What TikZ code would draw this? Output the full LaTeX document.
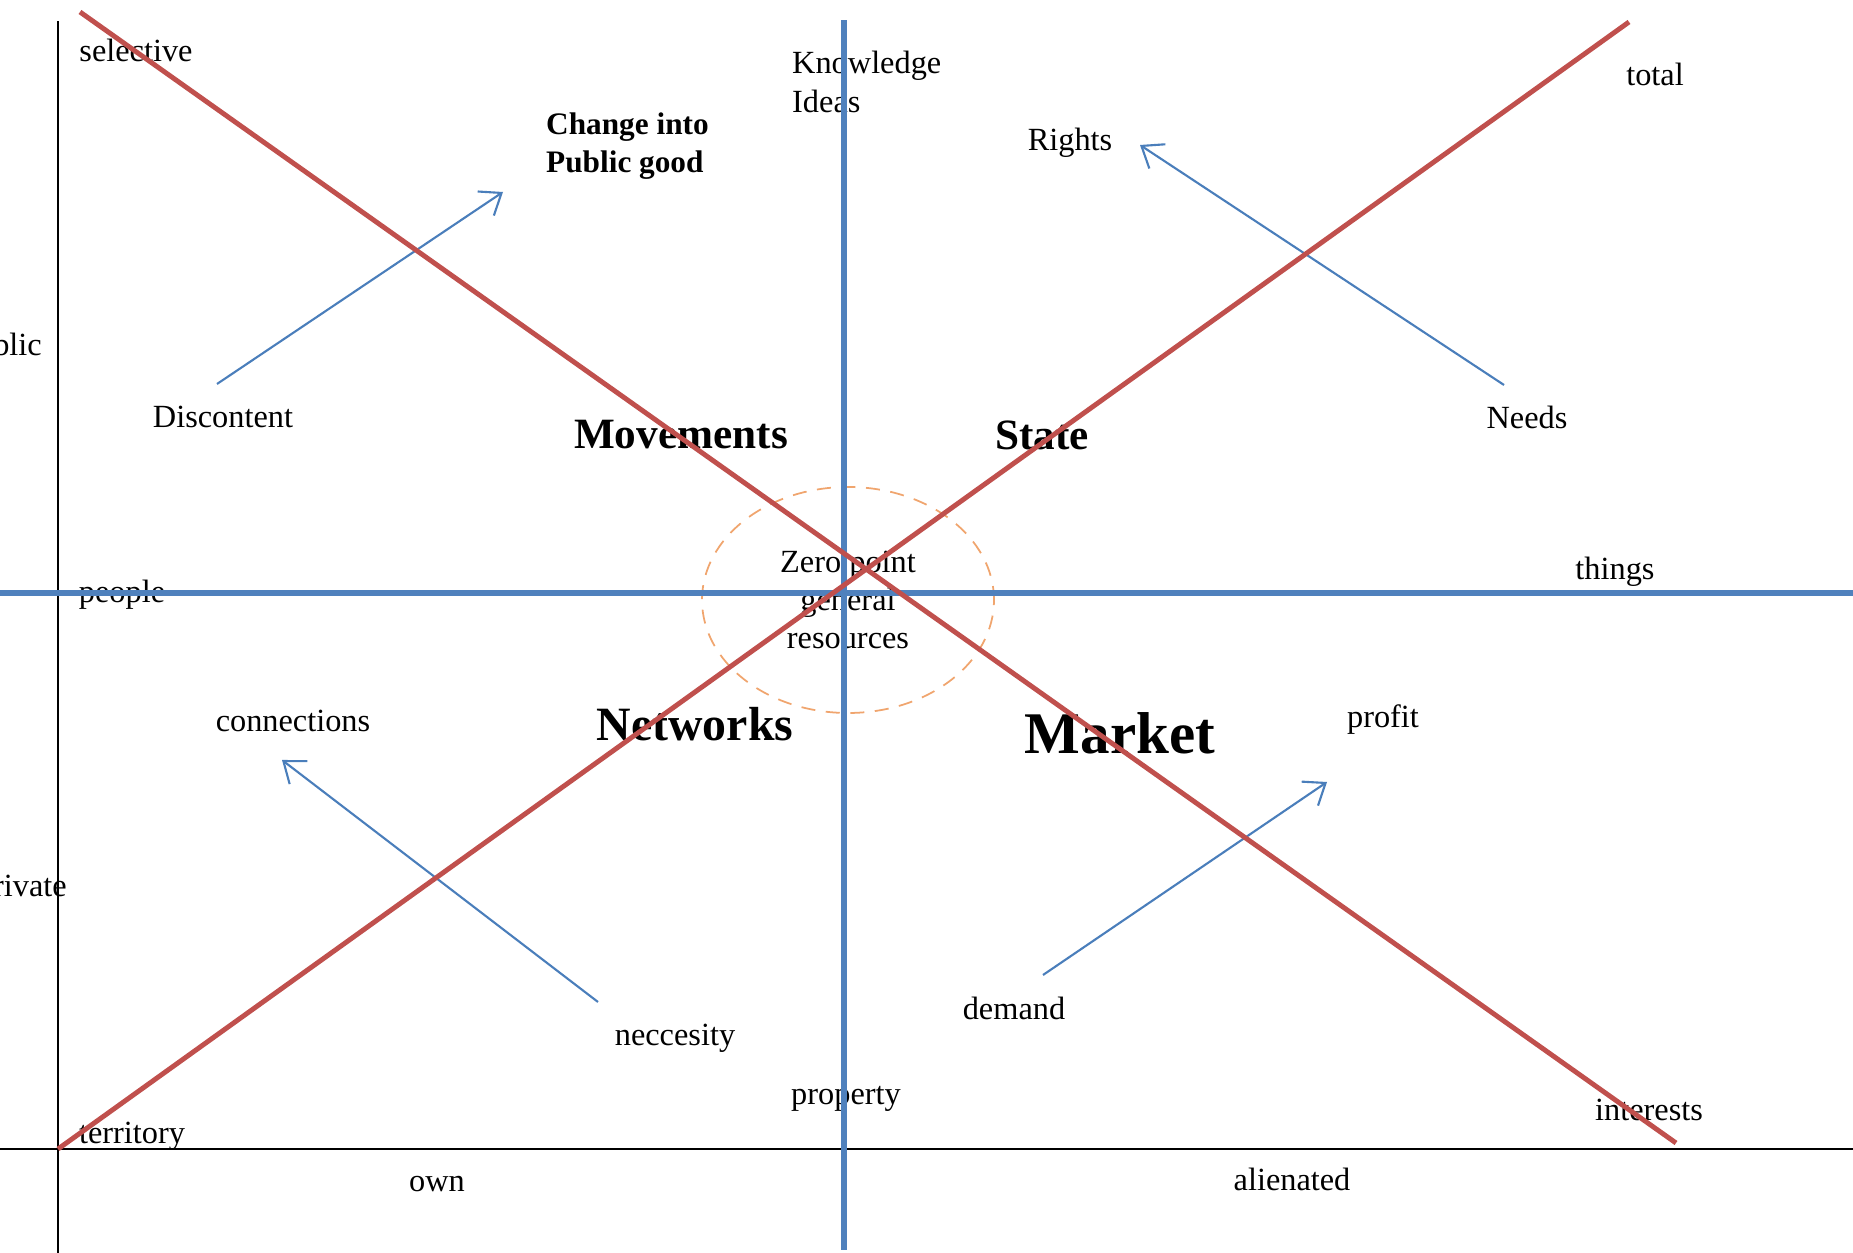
\documentclass[tikz,border=0pt]{standalone}
\usepackage{fontspec}
\setmainfont{Liberation Serif}
\usetikzlibrary{arrows.meta, shapes.geometric}

\definecolor{axisblue}{RGB}{79,129,189}
\definecolor{crossred}{RGB}{192,80,77}
\definecolor{arrowblue}{RGB}{74,126,187}
\definecolor{zeroorange}{RGB}{240,165,110}

\begin{document}
\begin{tikzpicture}[
    lbl/.style={font=\fontsize{9.2}{10.9}\selectfont, inner sep=1pt},
    sector/.style={font=\bfseries\fontsize{12.3}{14}\selectfont, inner sep=1pt},
    thinarrow/.style={draw=arrowblue, line width=0.6pt, -{Straight Barb[length=1.9mm,width=2.9mm]}},
    bigline/.style={draw=axisblue, line width=1.7pt},
    redline/.style={draw=crossred, line width=1.4pt},
]
    \useasboundingbox (0,0) rectangle (18.53,12.53);

    % labels
    \node[lbl] (selective) at (1.36,12.03) {selective};
    \node[lbl, anchor=west, align=left] (knowledge) at (7.88,11.71) {Knowledge\\Ideas};
    \node[lbl, anchor=west, align=left, font=\bfseries\fontsize{8.9}{10.9}\selectfont] (change) at (5.42,11.07) {Change into\\Public good};
    \node[lbl] (total) at (16.55,11.79) {total};
    \node[lbl] (rights) at (10.70,11.10) {Rights};
    \node[lbl, anchor=east] (public) at (0.46,9.09) {Public};
    \node[lbl, anchor=east] (private) at (0.71,3.67) {Private};
    \node[lbl] (discontent) at (2.23,8.36) {Discontent};
    \node[lbl] (needs) at (15.27,8.36) {Needs};
    \node[lbl] (people) at (1.22,6.58) {people};
    \node[lbl] (things) at (16.15,6.81) {things};
    \node[lbl] (connections) at (2.93,5.32) {connections};
    \node[lbl] (profit) at (13.83,5.33) {profit};
    \node[lbl] (demand) at (10.14,2.45) {demand};
    \node[lbl] (neccesity) at (6.75,2.15) {neccesity};
    \node[lbl] (property) at (8.46,1.54) {property};
    \node[lbl] (territory) at (1.32,1.17) {territory};
    \node[lbl] (interests) at (16.49,1.43) {interests};
    \node[lbl] (own) at (4.37,0.69) {own};
    \node[lbl] (alienated) at (12.92,0.74) {alienated};

    % the four sectors
    \node[sector] (movements) at (6.81,8.18) {Movements};
    \node[sector] (state) at (10.42,8.18) {State};
    \node[sector, font=\bfseries\fontsize{13.6}{15}\selectfont] (networks) at (6.95,5.29) {Networks};
    \node[sector, font=\bfseries\fontsize{16.8}{18}\selectfont] (market) at (11.20,5.20) {Market};

    % zero point
    \node[lbl, ellipse, draw=zeroorange, dash pattern=on 4pt off 3pt, line width=0.5pt,
          minimum width=2.92cm, minimum height=2.26cm, align=center] (zero) at (8.48,6.53)
          {Zero point\\general\\resources};

    % arrows
    \coordinate (discT) at (2.17,8.69);
    \coordinate (discH) at (5.03,10.61);
    \coordinate (needsT) at (15.04,8.68);
    \coordinate (needsH) at (11.40,11.08);
    \coordinate (neccT) at (5.98,2.51);
    \coordinate (neccH) at (2.82,4.93);
    \coordinate (demandT) at (10.43,2.78);
    \coordinate (demandH) at (13.27,4.71);
    \draw[thinarrow] (discT) -- (discH);
    \draw[thinarrow] (needsT) -- (needsH);
    \draw[thinarrow] (neccT) -- (neccH);
    \draw[thinarrow] (demandT) -- (demandH);

    % axes
    \draw[black, line width=0.6pt] (0.58,0) -- (0.58,12.32);
    \draw[black, line width=0.6pt] (0,1.04) -- (18.53,1.04);

    \draw[bigline] (8.44,0.03) -- (8.44,12.33);
    \draw[bigline] (0,6.60) -- (18.53,6.60);

    \draw[redline] (0.80,12.41) -- (16.76,1.10);
    \draw[redline] (0.58,1.04) -- (16.29,12.31);
\end{tikzpicture}
\end{document}
